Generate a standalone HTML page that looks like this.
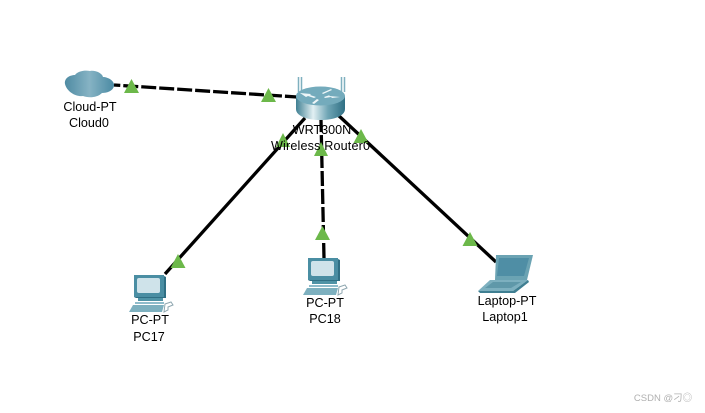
<!DOCTYPE html>
<html>
<head>
<meta charset="utf-8">
<style>
html,body{margin:0;padding:0;background:#fff;width:705px;height:413px;overflow:hidden}
svg{display:block}
text{font-family:"Liberation Sans","Noto Sans CJK SC",sans-serif;font-size:12.600px;fill:#000;text-anchor:middle}
</style>
</head>
<body>
<svg width="705" height="413" viewBox="0 0 705 413" xmlns="http://www.w3.org/2000/svg">
<defs>
<linearGradient id="cl" x1="0" x2="1" y1="0" y2="0">
<stop offset="0" stop-color="#4f8ba3"/><stop offset=".5" stop-color="#86b3c4"/><stop offset="1" stop-color="#4a8aa3"/>
</linearGradient>
<linearGradient id="rt" x1="0" x2="1" y1="0" y2="0">
<stop offset="0" stop-color="#3f7f92"/><stop offset=".35" stop-color="#e2f0f3"/><stop offset=".65" stop-color="#6fa5b5"/><stop offset="1" stop-color="#2f6f84"/>
</linearGradient>
<g id="pc">
<path d="M5 0H35V22H5Z" fill="#4a8ea3"/>
<path d="M35 1l2 1V23H7l-2-1H35Z" fill="#2f6f84"/>
<rect x="8" y="3" width="23" height="15" rx="2" fill="#cfe3ea"/>
<rect x="9" y="23" width="25" height="3" fill="#4f93a6"/>
<rect x="6" y="27" width="29" height="2" fill="#8fbccb"/>
<path d="M4 30H35L33 37H0Z" fill="#7db0bf"/>
<path d="M36 29l6-2 2 3-5 2 0 3-4 2z" fill="#fff" stroke="#8fa7b0" stroke-width="1"/>
</g>
</defs>

<!-- links -->
<g stroke="#000" stroke-width="3.300" fill="none">
<line x1="114" y1="85" x2="297" y2="97" stroke-dasharray="15 3" stroke-dashoffset="8.700"/>
<line x1="165" y1="274" x2="305" y2="118"/>
<line x1="324" y1="258" x2="321" y2="120" stroke-dasharray="15 3"/>
<line x1="496" y1="262" x2="338" y2="115"/>
</g>

<!-- cloud -->
<path d="M65 84C64 78 70 75 75 75C78 71 85 70 90 71C95 70 102 73 103 77C108 77 115 81 114 86C113 91 107 93 102 93C97 98 88 98 83 96C76 97 67 92 65 84Z" fill="url(#cl)"/>

<!-- router -->
<g>
<path d="M298.500 77V92M301.500 77V92M341.500 77V92M344.500 77V92" stroke="#7fb0bf" stroke-width="1.500" fill="none"/>
<path d="M296 96V109C296 116 307 120 320.500 120C334 120 345 116 345 109V96Z" fill="url(#rt)"/>
<ellipse cx="320.500" cy="96" rx="24.500" ry="9.500" fill="#74abbc"/>
<path d="M300 93l11 1-1 1 6 2-2 1-6-2-2 1zM340 97l-11-1 1-1-6 2 1 1 6-1 1 1zM312 103l5-4 2 1-5 4zM331 89l-9 4 1 1 9-4z" fill="#eef6f8"/>
</g>

<!-- pcs -->
<use href="#pc" x="129" y="275"/>
<use href="#pc" x="303" y="258"/>

<!-- laptop -->
<g>
<path d="M496 255H533L527 280H495Z" fill="#6ba3b3"/>
<path d="M499 258H529L524 276H497Z" fill="#4f8ea5"/>
<path d="M490 280H528L513 291H478Z" fill="#7db0bf"/>
<path d="M528 280L529 282L515 293H480L478 291H513Z" fill="#3f7f92"/>
<path d="M493 282H521L511 288H485Z" fill="#5f98a9"/>
</g>

<!-- triangles -->
<g fill="#6cb84a">
<path d="M131.500 79L139 93H124Z"/>
<path d="M268.500 88L276 102H261Z"/>
<path d="M178 254L185.500 268H170.500Z"/>
<path d="M283 133L290 147H276Z"/>
<path d="M322.500 226L330 240H315Z"/>
<path d="M321 142L328 156H314Z"/>
<path d="M470 232L477.500 246H462.500Z"/>
<path d="M361 129L368.500 143H353.500Z"/>
</g>

<!-- labels -->
<text x="90" y="111">Cloud-PT</text>
<text x="89" y="127">Cloud0</text>
<text x="322" y="134">WRT300N</text>
<text x="320.500" y="150" textLength="99">Wireless Router0</text>
<text x="150" y="324">PC-PT</text>
<text x="149" y="341">PC17</text>
<text x="325" y="307">PC-PT</text>
<text x="325" y="323">PC18</text>
<text x="507" y="305">Laptop-PT</text>
<text x="505" y="321">Laptop1</text>
<text x="663" y="401" style="font-size:9.500px;fill:#b0b0b0">CSDN @刁◎</text>
</svg>
</body>
</html>
